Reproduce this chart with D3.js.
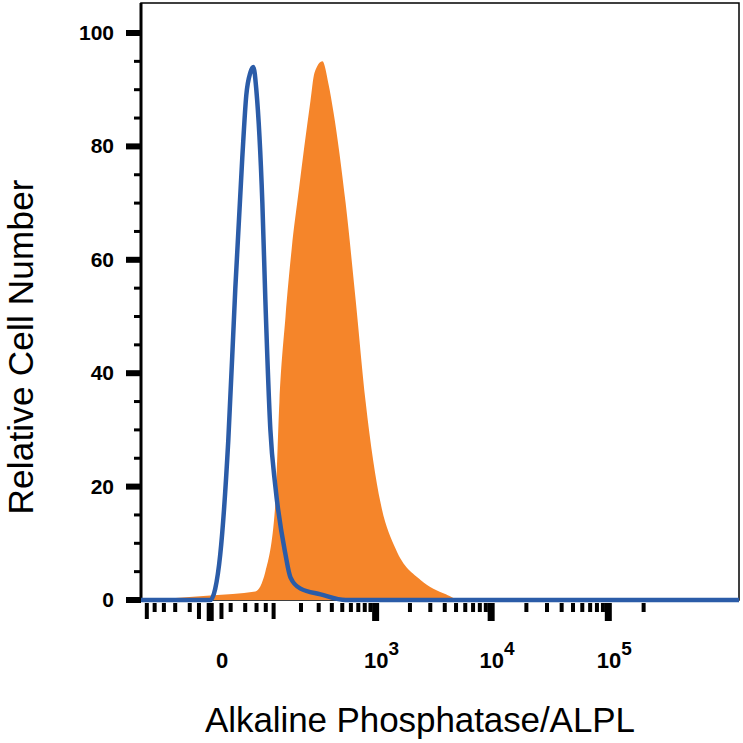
<!DOCTYPE html>
<html><head><meta charset="utf-8">
<script src="https://cdn.jsdelivr.net/npm/d3@7"></script>
<style>body{margin:0;background:#fff}svg{font-family:"Liberation Sans",Arial,sans-serif}</style>
</head><body><svg id="c" width="743" height="743"></svg>
<script>
// fluorescence value / relative count
var isoX = [-117,0,4.2,8.8,17.2,25.8,35.5,41.7,48.5,54,59.6,72.2,79,91.4,105,137,155,198,313,537,1.3e6];
var isoY = [0,0,2,8,28,55,78,89,93,94,90,70,53,30,20,8,4,2,1,0,0];
var alpX = [-117,0,57.7,79,105,117,137,160,189,249,273,326,372,415,537,662,814,1109,1503,2486,4090,5500,1.3e6];
var alpY = [0,0.8,1.5,5,17,35,50,62,72,88,93,95,91,86,70,53,35,17,9,3.5,1,0,0];
var yTicks = [0,20,40,60,80,100];
var xMajor = [{v:0,t:"0"},{v:1000,e:"3"},{v:10000,e:"4"},{v:100000,e:"5"}];
var xMinor = [-100,-80,-60,-40,-20,-10,10,20,40,60,80,100,200,300,400,500,600,700,800,900,
  2000,3000,4000,5000,6000,7000,8000,9000,20000,30000,40000,50000,60000,70000,80000,90000,200000];

var svg = d3.select("#c");
var L=141,R=739,T=3,B=600;
var x = d3.scaleSymlog().constant(40.5).domain([-117,1.3e6]).range([L,R]);
var y = d3.scaleLinear().domain([0,100]).range([B,33]);

// frame
svg.append("rect").attr("x",L).attr("y",T).attr("width",R-L).attr("height",B-T)
  .attr("fill","none").attr("stroke","#000").attr("stroke-width",1.5);
svg.append("line").attr("x1",L).attr("x2",L).attr("y1",T).attr("y2",B+2).attr("stroke","#000").attr("stroke-width",3);

// orange filled histogram
var alp = alpX.map(function(d,i){return [d,alpY[i]];});
svg.append("path").datum(alp)
  .attr("d",d3.area().x(function(d){return x(d[0]);}).y0(B).y1(function(d){return y(d[1]);}).curve(d3.curveMonotoneX))
  .attr("fill","#f5852a");

// isotype outline
var iso = isoX.map(function(d,i){return [d,isoY[i]];});
svg.append("path").datum(iso)
  .attr("d",d3.line().x(function(d){return x(d[0]);}).y(function(d){return y(d[1]);}).curve(d3.curveMonotoneX))
  .attr("fill","none").attr("stroke","#2b5ca8").attr("stroke-width",4.5).attr("stroke-linejoin","round");

// y ticks
d3.range(0,101,5).forEach(function(v){
  var big = v%20==0;
  svg.append("rect").attr("x",big?126:134).attr("width",big?15:7)
    .attr("y",y(v)-(big?3:1.5)).attr("height",big?6:3).attr("fill","#000");
});
svg.selectAll(".yl").data(yTicks).enter().append("text")
  .attr("x",114).attr("y",function(d){return y(d)+7;}).attr("text-anchor","end")
  .attr("font-size",21).attr("font-weight","bold").text(function(d){return d;});

// x ticks
xMinor.forEach(function(v){
  var mid = (v==-100||v==100||v==-10||v==10);
  svg.append("rect").attr("x",x(v)-2).attr("width",4).attr("y",B+3).attr("height",mid?16:9).attr("fill","#000");
});
xMajor.forEach(function(d){
  svg.append("rect").attr("x",x(d.v)-3.5).attr("width",7).attr("y",B+3).attr("height",18).attr("fill","#000");
  var t = svg.append("text").attr("x",x(d.v)+(d.e?6:12)).attr("y",668).attr("text-anchor","middle")
    .attr("font-size",22).attr("font-weight","bold");
  if(d.e){ t.append("tspan").text("10"); t.append("tspan").attr("dy",-13).attr("font-size",19).text(d.e); }
  else t.text(d.t);
});

svg.append("text").attr("x",420).attr("y",732).attr("text-anchor","middle").attr("font-size",35).attr("textLength",430).text("Alkaline Phosphatase/ALPL");
svg.append("text").attr("transform","translate(33,347) rotate(-90)").attr("text-anchor","middle").attr("font-size",35).attr("textLength",335).text("Relative Cell Number");
</script></body></html>
